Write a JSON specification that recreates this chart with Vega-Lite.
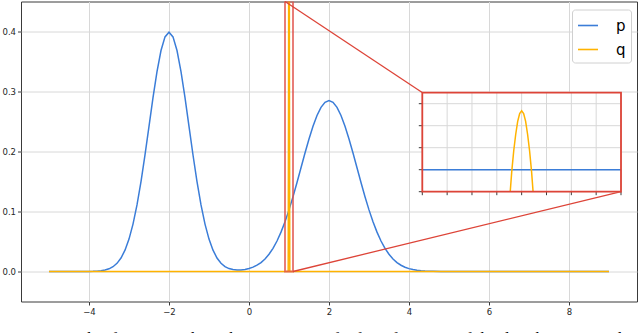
{
  "$schema": "https://vega.github.io/schema/vega-lite/v6.json",
  "width": 616,
  "height": 300,
  "autosize": {"type": "none"},
  "padding": {"left": 21, "top": 1.5, "right": 3, "bottom": 50},
  "background": "white",
  "config": {
    "view": {"stroke": "#3a3a3a", "strokeWidth": 1},
    "font": "DejaVu Sans",
    "axis": {
      "domain": false,
      "grid": true,
      "gridColor": "#d8d8d8",
      "gridWidth": 1,
      "tickColor": "#3a3a3a",
      "tickSize": 3.5,
      "tickWidth": 1,
      "labelFont": "DejaVu Sans",
      "labelFontSize": 8.5,
      "labelColor": "#262626",
      "labelPadding": 2,
      "title": null
    }
  },
  "title": {
    "text": "Figure 2: In this figure, we show the estimation of q for a fragment of the distribution p with",
    "orient": "bottom",
    "anchor": "start",
    "frame": "bounds",
    "font": "Liberation Serif",
    "fontSize": 17,
    "fontWeight": "normal",
    "color": "#000000",
    "offset": 15,
    "dx": -4
  },
  "datasets": {
    "main": [
      {"x": -5.0, "y": 0.0, "s": "p"},
      {"x": -4.5, "y": 0.0, "s": "p"},
      {"x": -4.2, "y": 0.00003, "s": "p"},
      {"x": -4.0, "y": 0.00013, "s": "p"},
      {"x": -3.9, "y": 0.00029, "s": "p"},
      {"x": -3.8, "y": 0.00061, "s": "p"},
      {"x": -3.7, "y": 0.00123, "s": "p"},
      {"x": -3.6, "y": 0.00239, "s": "p"},
      {"x": -3.5, "y": 0.00443, "s": "p"},
      {"x": -3.4, "y": 0.00792, "s": "p"},
      {"x": -3.3, "y": 0.01358, "s": "p"},
      {"x": -3.2, "y": 0.0224, "s": "p"},
      {"x": -3.1, "y": 0.0355, "s": "p"},
      {"x": -3.0, "y": 0.054, "s": "p"},
      {"x": -2.9, "y": 0.079, "s": "p"},
      {"x": -2.8, "y": 0.1109, "s": "p"},
      {"x": -2.7, "y": 0.1497, "s": "p"},
      {"x": -2.6, "y": 0.1942, "s": "p"},
      {"x": -2.5, "y": 0.242, "s": "p"},
      {"x": -2.4, "y": 0.2897, "s": "p"},
      {"x": -2.3, "y": 0.3332, "s": "p"},
      {"x": -2.2, "y": 0.3683, "s": "p"},
      {"x": -2.1, "y": 0.391, "s": "p"},
      {"x": -2.0, "y": 0.3989, "s": "p"},
      {"x": -1.9, "y": 0.391, "s": "p"},
      {"x": -1.8, "y": 0.3683, "s": "p"},
      {"x": -1.7, "y": 0.3332, "s": "p"},
      {"x": -1.6, "y": 0.2897, "s": "p"},
      {"x": -1.5, "y": 0.242, "s": "p"},
      {"x": -1.4, "y": 0.1942, "s": "p"},
      {"x": -1.3, "y": 0.1497, "s": "p"},
      {"x": -1.2, "y": 0.1109, "s": "p"},
      {"x": -1.1, "y": 0.079, "s": "p"},
      {"x": -1.0, "y": 0.054, "s": "p"},
      {"x": -0.9, "y": 0.0355, "s": "p"},
      {"x": -0.8, "y": 0.0225, "s": "p"},
      {"x": -0.7, "y": 0.01376, "s": "p"},
      {"x": -0.6, "y": 0.00821, "s": "p"},
      {"x": -0.5, "y": 0.00491, "s": "p"},
      {"x": -0.4, "y": 0.00319, "s": "p"},
      {"x": -0.3, "y": 0.00252, "s": "p"},
      {"x": -0.2, "y": 0.00265, "s": "p"},
      {"x": -0.1, "y": 0.00346, "s": "p"},
      {"x": 0.0, "y": 0.00494, "s": "p"},
      {"x": 0.1, "y": 0.00722, "s": "p"},
      {"x": 0.2, "y": 0.01047, "s": "p"},
      {"x": 0.3, "y": 0.01493, "s": "p"},
      {"x": 0.4, "y": 0.0209, "s": "p"},
      {"x": 0.5, "y": 0.0287, "s": "p"},
      {"x": 0.6, "y": 0.0386, "s": "p"},
      {"x": 0.7, "y": 0.0508, "s": "p"},
      {"x": 0.8, "y": 0.0656, "s": "p"},
      {"x": 0.9, "y": 0.0829, "s": "p"},
      {"x": 1.0, "y": 0.1027, "s": "p"},
      {"x": 1.1, "y": 0.1247, "s": "p"},
      {"x": 1.2, "y": 0.1483, "s": "p"},
      {"x": 1.3, "y": 0.1728, "s": "p"},
      {"x": 1.4, "y": 0.1974, "s": "p"},
      {"x": 1.5, "y": 0.2208, "s": "p"},
      {"x": 1.6, "y": 0.242, "s": "p"},
      {"x": 1.7, "y": 0.26, "s": "p"},
      {"x": 1.8, "y": 0.2736, "s": "p"},
      {"x": 1.9, "y": 0.2821, "s": "p"},
      {"x": 2.0, "y": 0.285, "s": "p"},
      {"x": 2.1, "y": 0.2821, "s": "p"},
      {"x": 2.2, "y": 0.2736, "s": "p"},
      {"x": 2.3, "y": 0.26, "s": "p"},
      {"x": 2.4, "y": 0.242, "s": "p"},
      {"x": 2.5, "y": 0.2208, "s": "p"},
      {"x": 2.6, "y": 0.1974, "s": "p"},
      {"x": 2.7, "y": 0.1728, "s": "p"},
      {"x": 2.8, "y": 0.1483, "s": "p"},
      {"x": 2.9, "y": 0.1247, "s": "p"},
      {"x": 3.0, "y": 0.1027, "s": "p"},
      {"x": 3.1, "y": 0.0829, "s": "p"},
      {"x": 3.2, "y": 0.0656, "s": "p"},
      {"x": 3.3, "y": 0.0508, "s": "p"},
      {"x": 3.4, "y": 0.0386, "s": "p"},
      {"x": 3.5, "y": 0.0287, "s": "p"},
      {"x": 3.6, "y": 0.0209, "s": "p"},
      {"x": 3.7, "y": 0.01493, "s": "p"},
      {"x": 3.8, "y": 0.01045, "s": "p"},
      {"x": 3.9, "y": 0.00716, "s": "p"},
      {"x": 4.0, "y": 0.00481, "s": "p"},
      {"x": 4.1, "y": 0.00317, "s": "p"},
      {"x": 4.2, "y": 0.00204, "s": "p"},
      {"x": 4.3, "y": 0.00129, "s": "p"},
      {"x": 4.4, "y": 0.0008, "s": "p"},
      {"x": 4.5, "y": 0.00048, "s": "p"},
      {"x": 4.6, "y": 0.00029, "s": "p"},
      {"x": 4.8, "y": 0.0001, "s": "p"},
      {"x": 5.0, "y": 0.00003, "s": "p"},
      {"x": 5.5, "y": 0.0, "s": "p"},
      {"x": 9.0, "y": 0.0, "s": "p"},
      {"x": -5.0, "y": 0.0, "s": "q"},
      {"x": 0.98, "y": 0.0, "s": "q"},
      {"x": 0.99, "y": 0.35, "s": "q"},
      {"x": 0.995, "y": 0.9, "s": "q"},
      {"x": 1.0, "y": 1.2, "s": "q"},
      {"x": 1.005, "y": 0.9, "s": "q"},
      {"x": 1.01, "y": 0.35, "s": "q"},
      {"x": 1.02, "y": 0.0, "s": "q"},
      {"x": 9.0, "y": 0.0, "s": "q"}
    ],
    "zoomrect": [{"x1": 0.9, "x2": 1.1, "y1": 0.0, "y2": 0.45}],
    "connectors": [
      {"x1": 0.9, "y1": 0.45, "x2": 4.33, "y2": 0.2983},
      {"x1": 1.1, "y1": 0.0, "x2": 9.3, "y2": 0.1333}
    ],
    "insetbox": [{"x1": 0.9, "x2": 1.1, "y1": 0.0, "y2": 0.45}],
    "insetxticks": [
      {"v": 0.9}, {"v": 0.925}, {"v": 0.95}, {"v": 0.975}, {"v": 1.0},
      {"v": 1.025}, {"v": 1.05}, {"v": 1.075}, {"v": 1.1}
    ],
    "insetyticks": [
      {"v": 0.0}, {"v": 0.1}, {"v": 0.2}, {"v": 0.3}, {"v": 0.4}
    ],
    "insetp": [
      {"x": 0.9, "y": 0.1},
      {"x": 1.1, "y": 0.1}
    ],
    "insetq": [
      {"x": 0.9885, "y": 0.0},
      {"x": 0.99, "y": 0.09},
      {"x": 0.992, "y": 0.185},
      {"x": 0.994, "y": 0.26},
      {"x": 0.996, "y": 0.32},
      {"x": 0.998, "y": 0.355},
      {"x": 1.0, "y": 0.368},
      {"x": 1.002, "y": 0.355},
      {"x": 1.004, "y": 0.32},
      {"x": 1.006, "y": 0.26},
      {"x": 1.008, "y": 0.185},
      {"x": 1.01, "y": 0.09},
      {"x": 1.0115, "y": 0.0}
    ]
  },
  "layer": [
    {
      "layer": [
        {
          "data": {"name": "main"},
          "mark": {"type": "line", "clip": true, "strokeWidth": 1.5},
          "encoding": {
            "x": {
              "field": "x", "type": "quantitative", "title": null,
              "scale": {"domain": [-5.7, 9.7], "nice": false, "zero": false},
              "axis": {"values": [-4, -2, 0, 2, 4, 6, 8], "format": "d", "orient": "bottom"}
            },
            "y": {
              "field": "y", "type": "quantitative", "title": null,
              "scale": {"domain": [-0.05, 0.45], "nice": false, "zero": false},
              "axis": {"values": [0, 0.1, 0.2, 0.3, 0.4], "format": ".1f", "orient": "left"}
            },
            "color": {
              "field": "s", "type": "nominal",
              "scale": {"domain": ["p", "q"], "range": ["#3b7dd8", "#ffb300"]},
              "legend": {
                "orient": "none", "legendX": 551, "legendY": 8,
                "title": null,
                "symbolType": "stroke", "symbolSize": 400, "symbolStrokeWidth": 1.6,
                "labelFont": "DejaVu Sans", "labelFontSize": 15, "labelColor": "#000000",
                "labelOffset": 17, "padding": 5, "rowPadding": 5,
                "strokeColor": "#d0d0d0", "fillColor": "white", "cornerRadius": 3
              }
            },
            "order": {"field": "x", "type": "quantitative"}
          }
        },
        {
          "data": {"name": "zoomrect"},
          "mark": {"type": "rect", "fill": "white", "fillOpacity": 0, "stroke": "#e0524a", "strokeOpacity": 0.75, "strokeWidth": 2, "clip": true},
          "encoding": {
            "x": {"field": "x1", "type": "quantitative", "title": null},
            "x2": {"field": "x2"},
            "y": {"field": "y1", "type": "quantitative", "title": null},
            "y2": {"field": "y2"}
          }
        },
        {
          "data": {"name": "connectors"},
          "mark": {"type": "rule", "stroke": "#dd4438", "strokeWidth": 1.3},
          "encoding": {
            "x": {"field": "x1", "type": "quantitative", "title": null},
            "x2": {"field": "x2"},
            "y": {"field": "y1", "type": "quantitative", "title": null},
            "y2": {"field": "y2"}
          }
        }
      ]
    },
    {
      "encoding": {
        "x": {"type": "quantitative", "title": null, "axis": null, "scale": {"domain": [0.49607, 1.1161], "nice": false, "zero": false}},
        "y": {"type": "quantitative", "title": null, "axis": null, "scale": {"domain": [-0.49909, 0.86455], "nice": false, "zero": false}}
      },
      "layer": [
        {
          "data": {"name": "insetbox"},
          "mark": {"type": "rect", "fill": "white", "stroke": null},
          "encoding": {
            "x": {"field": "x1", "type": "quantitative"},
            "x2": {"field": "x2"},
            "y": {"field": "y1", "type": "quantitative"},
            "y2": {"field": "y2"}
          }
        },
        {
          "data": {"name": "insetxticks"},
          "mark": {"type": "rule", "stroke": "#d8d8d8", "strokeWidth": 1},
          "encoding": {
            "x": {"field": "v", "type": "quantitative"},
            "y": {"datum": 0},
            "y2": {"datum": 0.45}
          }
        },
        {
          "data": {"name": "insetyticks"},
          "mark": {"type": "rule", "stroke": "#d8d8d8", "strokeWidth": 1},
          "encoding": {
            "y": {"field": "v", "type": "quantitative"},
            "x": {"datum": 0.9},
            "x2": {"datum": 1.1}
          }
        },
        {
          "data": {"name": "insetxticks"},
          "mark": {"type": "rule", "stroke": "#3a3a3a", "strokeWidth": 1},
          "encoding": {
            "x": {"field": "v", "type": "quantitative"},
            "y": {"datum": 0},
            "y2": {"datum": -0.0159}
          }
        },
        {
          "data": {"name": "insetyticks"},
          "mark": {"type": "rule", "stroke": "#3a3a3a", "strokeWidth": 1},
          "encoding": {
            "y": {"field": "v", "type": "quantitative"},
            "x": {"datum": 0.9},
            "x2": {"datum": 0.89648}
          }
        },
        {
          "data": {"name": "insetp"},
          "mark": {"type": "line", "stroke": "#3b7dd8", "strokeWidth": 1.5},
          "encoding": {
            "x": {"field": "x", "type": "quantitative"},
            "y": {"field": "y", "type": "quantitative"}
          }
        },
        {
          "data": {"name": "insetq"},
          "mark": {"type": "line", "stroke": "#ffb300", "strokeWidth": 1.5},
          "encoding": {
            "x": {"field": "x", "type": "quantitative"},
            "y": {"field": "y", "type": "quantitative"}
          }
        },
        {
          "data": {"name": "insetbox"},
          "mark": {"type": "rect", "fill": "white", "fillOpacity": 0, "stroke": "#dd4438", "strokeWidth": 1.8},
          "encoding": {
            "x": {"field": "x1", "type": "quantitative"},
            "x2": {"field": "x2"},
            "y": {"field": "y1", "type": "quantitative"},
            "y2": {"field": "y2"}
          }
        }
      ]
    }
  ],
  "resolve": {"scale": {"x": "independent", "y": "independent"}}
}
